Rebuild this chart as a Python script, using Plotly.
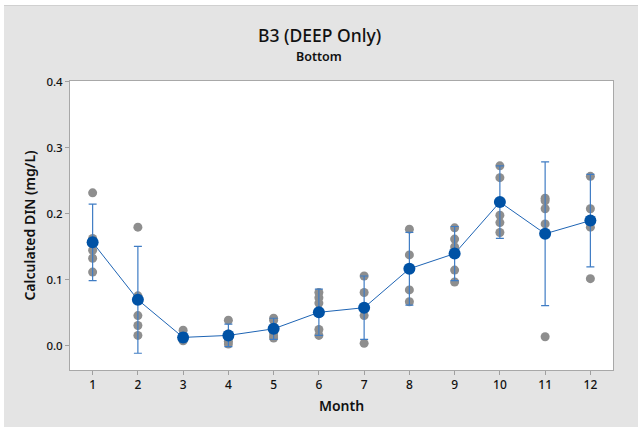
import plotly.graph_objects as go

months = [1, 2, 3, 4, 5, 6, 7, 8, 9, 10, 11, 12]

# individual observations per month (mg/L)
obs = [
    [0.232, 0.163, 0.145, 0.133, 0.112],
    [0.180, 0.076, 0.046, 0.031, 0.016],
    [0.024, 0.014, 0.010, 0.009, 0.008],
    [0.039, 0.018, 0.012, 0.007, 0.003],
    [0.042, 0.039, 0.020, 0.015, 0.012],
    [0.081, 0.073, 0.065, 0.025, 0.016],
    [0.106, 0.081, 0.055, 0.046, 0.004],
    [0.177, 0.138, 0.118, 0.085, 0.067],
    [0.179, 0.162, 0.150, 0.115, 0.097],
    [0.273, 0.255, 0.198, 0.187, 0.172],
    [0.224, 0.220, 0.208, 0.185, 0.014],
    [0.257, 0.208, 0.180, 0.102],
]

means = [0.157, 0.070, 0.013, 0.016, 0.026, 0.051, 0.058, 0.117, 0.140, 0.218, 0.170, 0.190]
ci_half = [0.058, 0.081, 0.007, 0.017, 0.016, 0.035, 0.048, 0.055, 0.041, 0.055, 0.109, 0.070]

y_ticks = [0.0, 0.1, 0.2, 0.3, 0.4]

obs_x = []
obs_y = []
for m, vals in zip(months, obs):
    for v in vals:
        obs_x.append(m)
        obs_y.append(v)

fig = go.Figure()

fig.add_trace(go.Scatter(
    x=obs_x, y=obs_y, mode="markers",
    marker=dict(color="#8e8e8e", size=9),
    hoverinfo="skip", showlegend=False,
))

fig.add_trace(go.Scatter(
    x=months, y=means, mode="lines+markers",
    line=dict(color="#1e64b4", width=1),
    marker=dict(color="#0052a5", size=12),
    error_y=dict(type="data", array=ci_half, color="#3f7cc4",
                 thickness=1.2, width=4),
    showlegend=False,
))

font = "Noto Sans"

fig.update_layout(
    width=638, height=427,
    margin=dict(l=70, r=25, t=81, b=57),
    paper_bgcolor="#e4e4e4",
    plot_bgcolor="white",
    font=dict(family=font, color="#111111", size=12),
    xaxis=dict(
        range=[0.5, 12.5], tickvals=months, ticks="outside", ticklen=4,
        tickcolor="#a0a0a0", showgrid=False, zeroline=False,
        showline=True, linecolor="#a8a8a8", mirror=True, linewidth=1,
        tickfont=dict(size=12, weight=500),
        title=dict(text="Month", font=dict(size=14, weight=600), standoff=8),
    ),
    yaxis=dict(
        range=[-0.0364, 0.4015], tickvals=y_ticks, tickformat=".1f",
        ticks="outside", ticklen=4, tickcolor="#a0a0a0",
        showgrid=False, zeroline=False,
        showline=True, linecolor="#a8a8a8", mirror=True, linewidth=1,
        tickfont=dict(size=11.5, weight=500),
        title=dict(text="Calculated DIN (mg/L)", font=dict(size=14, weight=600), standoff=7),
    ),
    annotations=[
        dict(text="B3 (DEEP Only)", xref="paper", yref="paper",
             x=0.4586, y=1 + 46 / 289, yanchor="middle", showarrow=False,
             font=dict(size=17.5, weight=500)),
        dict(text="Bottom", xref="paper", yref="paper",
             x=0.4586, y=1 + 25 / 289, yanchor="middle", showarrow=False,
             font=dict(size=12.5, weight=600)),
    ],
    shapes=[
        dict(type="rect", xref="paper", yref="paper",
             x0=-70 / 543, x1=-66 / 543, y0=-0.3, y1=1.4,
             fillcolor="white", line=dict(width=0), layer="above"),
        dict(type="rect", xref="paper", yref="paper",
             x0=-0.2, x1=1.1, y0=1 + 76 / 289, y1=1 + 81 / 289,
             fillcolor="white", line=dict(width=0), layer="above"),
        dict(type="line", xref="paper", yref="paper",
             x0=-66 / 543, x1=1.1, y0=1 + 75.5 / 289, y1=1 + 75.5 / 289,
             line=dict(color="#d0d0d0", width=1), layer="above"),
    ],
)

fig.write_html("out.html", config={"displayModeBar": False},
               post_script="document.body.style.margin='0px';")
